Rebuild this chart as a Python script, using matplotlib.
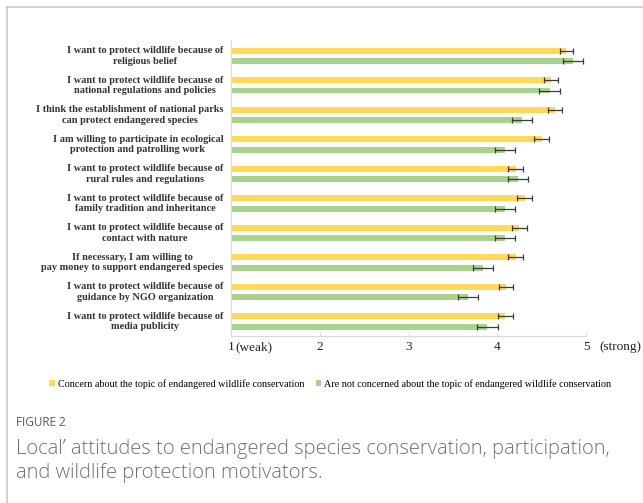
import numpy as np
import matplotlib
matplotlib.use("Agg")
import matplotlib.pyplot as plt
from matplotlib.patches import Patch
from matplotlib.lines import Line2D

# Motivation / attitude statements (top to bottom)
statements = [
    "I want to protect wildlife because of\nreligious belief",
    "I want to protect wildlife because of\nnational regulations and policies",
    "I think the establishment of national parks\ncan protect endangered species",
    "I am willing to participate in ecological\nprotection and patrolling work",
    "I want to protect wildlife because of\nrural rules and regulations",
    "I want to protect wildlife because of\nfamily tradition and inheritance",
    "I want to protect wildlife because of\ncontact with nature",
    "If necessary, I am willing to\npay money to support endangered species",
    "I want to protect wildlife because of\nguidance by NGO organization",
    "I want to protect wildlife because of\nmedia publicity",
]

# Mean scores (1 = weak, 5 = strong) and standard errors
concerned_mean = [4.78, 4.61, 4.65, 4.50, 4.21, 4.31, 4.25, 4.21, 4.10, 4.09]
concerned_err = [0.077, 0.080, 0.077, 0.083, 0.085, 0.083, 0.083, 0.085, 0.083, 0.083]
unconcerned_mean = [4.85, 4.59, 4.28, 4.09, 4.23, 4.09, 4.09, 3.84, 3.67, 3.89]
unconcerned_err = [0.113, 0.115, 0.117, 0.113, 0.113, 0.113, 0.113, 0.117, 0.117, 0.113]

series_names = [
    "Concern about the topic of endangered wildlife conservation",
    "Are not concerned about the topic of endangered wildlife conservation",
]
tick_values = [1, 2, 3, 4, 5]
tick_labels = ["1", "2", "3", "4", "5"]

yellow = "#FFD957"
green = "#A9D38C"
err_color = "#3a3a3a"
axis_gray = "#d9d9d9"
serif = ["Liberation Serif", "DejaVu Serif"]

fig = plt.figure(figsize=(6.43, 5.03), dpi=100)

# Thin frame lines along the top and left of the panel
fig.add_artist(Line2D([6.5 / 643, 6.5 / 643], [0, 1 - 6.5 / 503],
                      transform=fig.transFigure, color="#c8c8c8", lw=1.2))
fig.add_artist(Line2D([6.5 / 643, 1], [1 - 6.5 / 503, 1 - 6.5 / 503],
                      transform=fig.transFigure, color="#c8c8c8", lw=1.2))

ax = fig.add_axes([231 / 643, 0.332, 355 / 643, 0.5863])

pos = np.arange(len(statements))
off = 0.175
h = 0.2
err_kw = dict(ecolor=err_color, elinewidth=0.9, capsize=2.0, capthick=0.9)
ax.barh(pos - off, concerned_mean, height=h, color=yellow, xerr=concerned_err,
        error_kw=err_kw, label=series_names[0])
ax.barh(pos + off, unconcerned_mean, height=h, color=green, xerr=unconcerned_err,
        error_kw=err_kw, label=series_names[1])

ax.set_xlim(1, 5)
ax.set_ylim(9.49, -0.5)
ax.set_yticks([])
ax.set_xticks(tick_values)
ax.set_xticklabels(tick_labels, family=serif, fontsize=9.5, color="#222222")
ax.tick_params(axis="x", direction="in", length=3, color=axis_gray, pad=3.5)
for side in ("top", "right"):
    ax.spines[side].set_visible(False)
for side in ("left", "bottom"):
    ax.spines[side].set_color(axis_gray)
    ax.spines[side].set_linewidth(0.9)

# Scale end descriptions next to the first and last tick
ax.annotate("(weak)", xy=(1, 0), xycoords=("data", "axes fraction"),
            xytext=(3, -3.5), textcoords="offset points", ha="left", va="top",
            family=serif, fontsize=9.5, color="#222222")
ax.annotate("(strong)", xy=(5, 0), xycoords=("data", "axes fraction"),
            xytext=(9.5, -3.5), textcoords="offset points", ha="left", va="top",
            family=serif, fontsize=9.5, color="#222222")

for p, s in zip(pos, statements):
    ax.text(-0.022, p, s, transform=ax.get_yaxis_transform(), ha="right",
            va="center", multialignment="center", family=serif,
            fontweight="bold", fontsize=7.35, color="#333333", linespacing=1.25)

handles = [Patch(facecolor=yellow, edgecolor="none"),
           Patch(facecolor=green, edgecolor="none")]
fig.legend(handles, series_names, loc="center", bbox_to_anchor=(0.514, 0.2366),
           ncol=2, frameon=False, handlelength=0.5, handleheight=0.5,
           handletextpad=0.3, columnspacing=1.2,
           prop=dict(family=serif, size=7.3))

fig.text(16 / 643, 1 - 422 / 503, "FIGURE 2", family="Open Sans", fontsize=8.5,
         color="#5a5a5a", va="center", ha="left")
fig.text(16 / 643, 1 - 461 / 503,
         "Local\u2019 attitudes to endangered species conservation, participation,\n"
         "and wildlife protection motivators.",
         family="Open Sans", fontweight="light", fontsize=14.5, color="#707070",
         va="center", ha="left", linespacing=1.22)

fig.savefig("out.png", dpi=100)
